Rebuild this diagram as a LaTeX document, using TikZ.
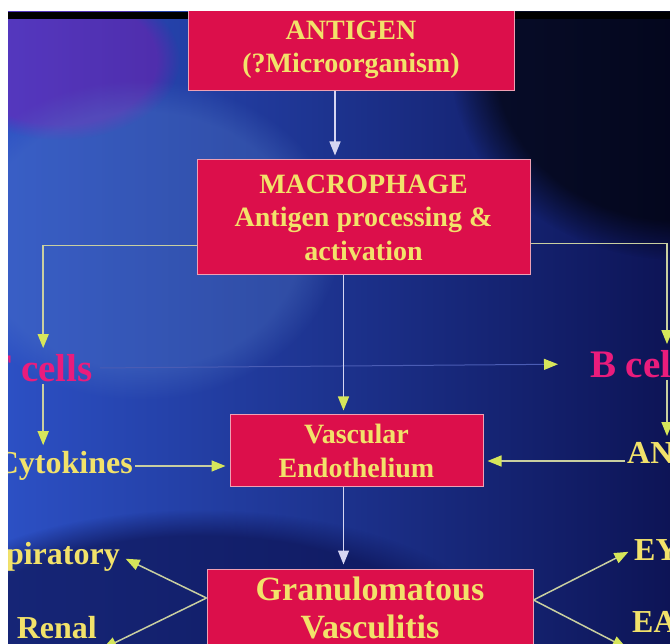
\documentclass[tikz,border=0pt]{standalone}
\usepackage{fontspec}
\setmainfont{Liberation Serif}
\usetikzlibrary{arrows.meta,positioning,calc,fadings}
\definecolor{bgleft}{HTML}{2C50C4}
\definecolor{bgright}{HTML}{0D1456}
\definecolor{boxred}{HTML}{DC0F4B}
\definecolor{boxedge}{HTML}{EFA0B4}
\definecolor{txtyel}{HTML}{F2E26A}
\definecolor{lblpink}{HTML}{EA1C7C}
\definecolor{lnpale}{HTML}{C9CFA0}
\definecolor{lnwhite}{HTML}{D6D6F2}
\definecolor{tipyel}{HTML}{D6E65A}
\definecolor{faintln}{HTML}{4A5CB4}

\begin{document}
\begin{tikzpicture}[x=1pt,y=-1pt,
  bx/.style={draw=boxedge,fill=boxred,line width=1pt,inner sep=0pt,
    align=center,text=txtyel,font=\bfseries\fontsize{28}{33.5}\selectfont},
  lbl/.style={text=txtyel,inner sep=2pt,font=\bfseries\fontsize{32}{36}\selectfont},
  pk/.style={text=lblpink,inner sep=2pt,font=\bfseries\fontsize{39}{44}\selectfont},
  ln/.style={draw=lnpale,line width=1.5pt,shorten >=4pt,
    -{Triangle[length=14pt,width=11pt,color=tipyel,fill=tipyel]}},
  wl/.style={ln,draw=lnwhite,
    -{Triangle[length=14pt,width=11pt,color=lnwhite,fill=lnwhite]}},
  faint/.style={ln,draw=faintln,line width=1pt,shorten >=30pt,shorten <=5pt}]
\useasboundingbox (0,0) rectangle (670,644);
\fill[white] (0,0) rectangle (670,644);
\begin{scope}
\clip (8,12) rectangle (670,644);
\shade[left color=bgleft,right color=bgright] (8,12) rectangle (670,644);
\fill[black,opacity=.65,path fading=circle with fuzzy edge 20 percent]
  (680,60) ellipse [x radius=230pt,y radius=200pt];
\fill[violet!60!magenta,opacity=.3,path fading=circle with fuzzy edge 20 percent]
  (60,60) ellipse [x radius=120pt,y radius=80pt];
\fill[cyan!40!blue!70!white,opacity=.3,path fading=circle with fuzzy edge 20 percent]
  (140,240) ellipse [x radius=200pt,y radius=160pt];
\fill[bgright,opacity=.7,path fading=circle with fuzzy edge 20 percent]
  (200,640) ellipse [x radius=300pt,y radius=130pt];
\fill[black] (8,12) rectangle (670,19);
\node[bx,minimum width=326pt,minimum height=82pt] (antigen) at (351,50)
  {ANTIGEN\\(?Microorganism)};
\node[bx,minimum width=333pt,minimum height=115pt] (macro) at (363.5,217.5)
  {MACROPHAGE\\Antigen processing \&\\activation};
\node[bx,minimum width=253pt,minimum height=72pt] (vasc) at (356.5,451)
  {Vascular\\Endothelium};
\node[bx,minimum width=326pt,minimum height=78pt,
  font=\bfseries\fontsize{34}{38}\selectfont] (granul) at (370,608)
  {Granulomatous\\Vasculitis};
\node[pk,anchor=east] (tcells) at (95,368) {T cells};
\node[pk,anchor=west] (bcells) at (588,364) {B cells};
\node[lbl,anchor=east] (cyto) at (135,466) {Cytokines};
\node[lbl,anchor=west] (anca) at (625,453) {ANCA};
\node[lbl,anchor=east] (resp) at (122,557) {Respiratory};
\node[lbl,anchor=east] (renal) at (99,628) {Renal};
\node[lbl,anchor=west] (eye) at (632,550) {EYE};
\node[lbl,anchor=west] (ear) at (630,622) {EAR};
\coordinate (rline) at (667,0);
\draw[wl] ([xshift=-16pt]antigen.south) -- ([xshift=-16pt]antigen.south |- macro.north);
\draw[ln] ([yshift=-28pt]macro.west) -| ([xshift=4pt]tcells.north);
\draw[ln] ([yshift=-26pt]macro.east) -| (rline |- bcells.north);
\draw[faint] (tcells.east) -- (bcells.west);
\draw[ln] ([xshift=4pt]tcells.south) -- ([xshift=4pt]tcells.south |- cyto.north);
\draw[ln] (cyto.east) -- (cyto.east -| vasc.west);
\draw[ln,draw=lnwhite] ([xshift=-20pt]macro.south) -- ([xshift=-20pt]macro.south |- vasc.north);
\draw[ln] (rline |- bcells.south) -- (rline |- anca.north);
\draw[ln] ([yshift=-8pt]anca.west) -- ([yshift=-8pt]anca.west -| vasc.east);
\draw[wl] ([xshift=-13pt]vasc.south) -- ([xshift=-13pt]vasc.south |- granul.north);
\draw[ln] ([yshift=10pt]granul.west) -- (resp.east);
\draw[ln] ([yshift=10pt]granul.west) -- ([yshift=-9pt]renal.south east);
\draw[ln] ([yshift=8pt]granul.east) -- (eye.west);
\draw[ln] ([yshift=8pt]granul.east) -- ([yshift=-15pt]ear.south west);
\end{scope}
\end{tikzpicture}
\end{document}
